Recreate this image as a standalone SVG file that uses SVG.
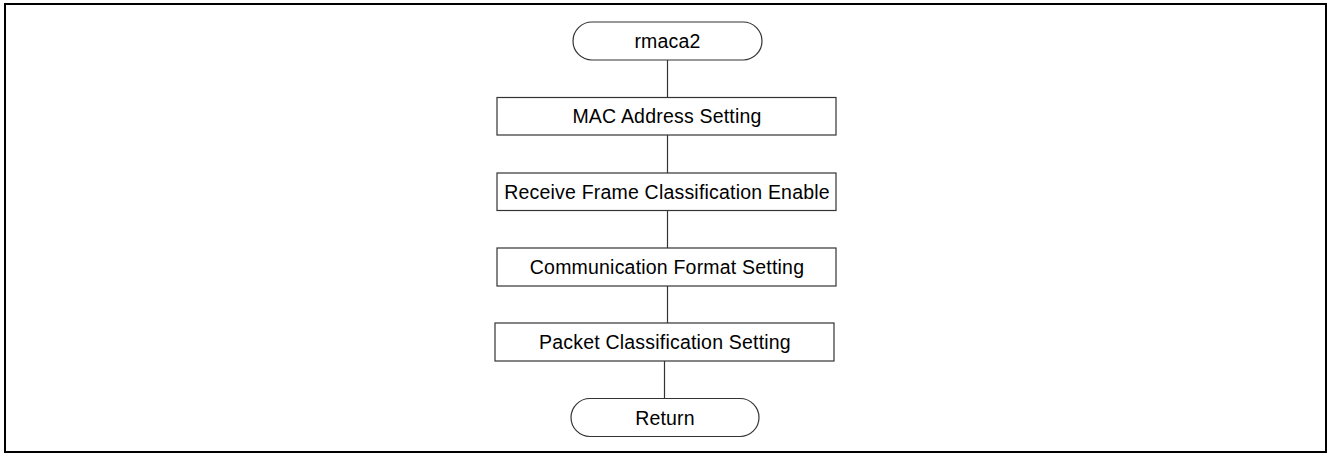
<svg xmlns="http://www.w3.org/2000/svg" width="1328" height="454" viewBox="0 0 1328 454">
<style>
.frame{fill:none;stroke:#000;stroke-width:2}
.box{fill:#fff;stroke:#333;stroke-width:1.2}
.conn{fill:none;stroke:#333;stroke-width:1.2}
.t{font-family:"Liberation Sans",Arial,sans-serif;font-size:19.5px;letter-spacing:0.2px;fill:#000;text-anchor:middle}
</style>
<rect class="frame" x="5" y="4" width="1321" height="448"/>
<g id="connectors">
<line class="conn" x1="667.5" y1="60" x2="667.5" y2="97.5"/>
<line class="conn" x1="667.5" y1="135" x2="667.5" y2="173"/>
<line class="conn" x1="667.5" y1="210.5" x2="667.5" y2="248"/>
<line class="conn" x1="667.5" y1="286" x2="667.5" y2="323"/>
<line class="conn" x1="664.5" y1="361" x2="664.5" y2="398.5"/>
</g>
<g id="start">
<rect class="box" x="573" y="22" width="189" height="38" rx="19" ry="19"/>
<text class="t" x="667.5" y="48">rmaca2</text>
</g>
<g id="mac">
<rect class="box" x="497" y="97.5" width="339" height="37.5"/>
<text class="t" x="667" y="123">MAC Address Setting</text>
</g>
<g id="receive">
<rect class="box" x="497" y="173" width="339" height="37.5"/>
<text class="t" x="667" y="198.5">Receive Frame Classification Enable</text>
</g>
<g id="comm">
<rect class="box" x="497" y="248" width="339" height="38"/>
<text class="t" x="667" y="274">Communication Format Setting</text>
</g>
<g id="packet">
<rect class="box" x="495" y="323" width="339" height="38"/>
<text class="t" x="665" y="349">Packet Classification Setting</text>
</g>
<g id="return">
<rect class="box" x="571" y="398.5" width="188" height="38" rx="19" ry="19"/>
<text class="t" x="665" y="424.5">Return</text>
</g>
</svg>
